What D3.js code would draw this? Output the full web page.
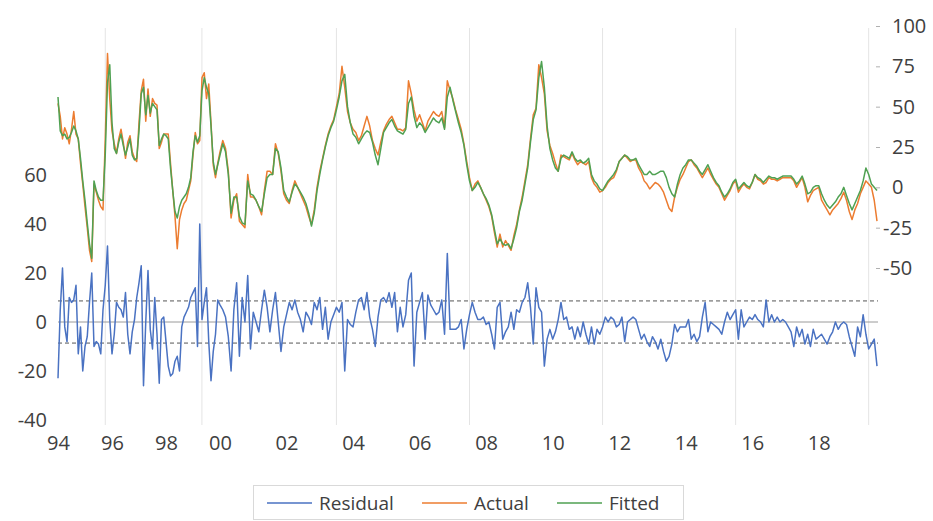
<!DOCTYPE html>
<html>
<head>
<meta charset="utf-8">
<script src="https://cdn.jsdelivr.net/npm/d3@7"></script>
<style>
  body { margin: 0; background: #fff; }
  svg { display: block; font-family: "Open Sans", sans-serif; }
</style>
</head>
<body>
<svg id="chart" width="933" height="521"></svg>
<script>
// Monthly observations, January 1994 to October 2019
const startYear = 1994;

const residual = [
  -23, 5, 22, -2, -8, 10, 8, 9, 15, -13, -2, -20,
  -10, -6, 8, 20, -10, -8, -9, -13, 5, 15, 31, 1,
  -13, -5, 8, 6, 5, 2, 12, -5, -13, -4, 1, 10,
  16, 23, -26, 0, 21, -3, -11, 10, -5, -25, 1, 2,
  -8, -18, -22, -21, -16, -14, -20, -2, 2, 4, 6, 10,
  12, 14, -10, 40, 1, 8, 14, -8, -24, -12, -5, 9,
  7, 5, 2, -6, -20, 5, 16, -14, 10, 0, 19, -11,
  4, 0, -4, 5, 13, 6, -4, 5, 12, 0, -12, -2,
  3, 8, 5, 9, 4, 1, -4, 4, 2, -1, 8, 5,
  10, -3, 6, -7, 0, 3, 6, 4, 8, -20, 1, -1,
  -2, 4, 9, 10, 5, 12, 2, -3, -10, 2, 9, 10,
  8, 12, 6, 12, -4, 6, -2, 3, 17, 20, -18, 4,
  8, 12, -7, 11, 7, 5, 3, 4, 9, -5, 28, -3,
  -3, -3, -2, 1, -11, -3, 3, 8, 4, 1, 1, 2,
  -1, 0, -5, -11, 6, 8, -7, -4, -2, 4, -3, 5,
  4, 8, 10, 16, 6, -9, 14, 6, 4, -18, -7, -3,
  -7, -4, 1, 8, 1, 2, -3, -2, -7, -2, -6, 0,
  -5, -9, -2, -9, -3, -5, -2, 2, 0, 2, 1, -2,
  -1, 2, -8, 0, 1, 2, 1, -3, -7, -5, -8, -10,
  -6, -8, -11, -7, -12, -16, -14, -9, -1, -4, -2, -2,
  -2, 1, -7, -5, -8, -6, 2, 8, -4, 0, -1, -2,
  -3, -5, 0, 4, 1, 3, 5, -7, 5, -2, 0, 2,
  1, 3, 1, 0, -2, 9, 0, 3, 0, 2, 0, 1,
  0, -2, -4, -10, -2, -6, -3, -9, -5, -10, -3, -7,
  -6, -5, -7, -9, -6, -4, 0, -3, -1, 0, -1, -6,
  -10, -14, -2, -6, 3, -5, -11, -9, -7, -18
];

const actual = [
  52, 44, 30, 37, 33, 27, 36, 47, 33, 30, 15, 2,
  -12, -25, -39, -46, 2, -3, -8, -12, -14, 30, 83, 55,
  35, 27, 21, 30, 36, 28, 18, 28, 32, 22, 18, 16,
  40, 60, 67, 41, 61, 44, 55, 52, 51, 24, 28, 33,
  33, 33, 15, -2, -18, -38, -20, -14, -10, -8, -2, 4,
  20, 34, 27, 29, 68, 71, 55, 64, 40, 14, 6, 15,
  22, 29, 24, 10, -19, -8, -4, -21, -23, -25, 8, -6,
  -6, -8, -12, -17, -2, 10, 10, 8, 27, 21, 10, -4,
  -8, -10, -2, 4, 0, -4, -8, -12, -18, -23, -14, 0,
  10, 18, 26, 33, 38, 42, 50, 58, 75, 62, 47, 40,
  36, 34, 29, 32, 38, 44, 38, 29, 24, 20, 28, 35,
  39, 42, 44, 40, 36, 36, 35, 37, 66, 58, 48, 41,
  45, 40, 35, 41, 44, 47, 45, 44, 47, 37, 66, 60,
  55, 48, 42, 36, 27, 16, 6, -2, 2, 4, 0, -4,
  -8, -12, -18, -28, -37, -29, -37, -33, -36, -39, -30, -23,
  -14, -6, 4, 14, 30, 45, 49, 76, 68, 58, 35, 26,
  21, 15, 10, 20, 19, 18, 17, 21, 17, 14, 16, 15,
  14, 16, 6, 2, 0, -3, -2, 0, 3, 5, 6, 10,
  16, 18, 20, 18, 16, 17, 17, 12, 9, 4, 2, -1,
  1, 3, 2, 0, -3, -8, -13, -15, -6, 0, 5, 8,
  12, 16, 17, 14, 12, 9, 6, 9, 12, 8, 5, 2,
  0, -4, -8, -5, -2, 2, 4, -3, 0, 2, 0, -1,
  3, 8, 5, 4, 2, 3, 6, 5, 5, 4, 5, 6,
  6, 6, 6, 4, 0, 3, 6, 0, -9, -5, -2, -1,
  0, -8, -11, -14, -17, -14, -12, -10, -7, -3, -8, -15,
  -20, -14, -10, -4, 0, 4, 2, 0, -8, -21
];

const fitted = [
  56, 35, 32, 33, 30, 31, 34, 38, 35, 30, 18, 4,
  -8, -22, -35, -44, 4, -2, -6, -8, -8, 20, 65, 76,
  40, 24, 21, 28, 33, 26, 20, 25, 30, 20, 17, 18,
  35, 58, 62, 45, 57, 46, 52, 50, 48, 26, 30, 33,
  32, 30, 12, -2, -15, -19, -12, -8, -6, -4, 0, 6,
  22, 32, 28, 32, 60, 68, 62, 58, 38, 16, 8, 14,
  20, 27, 22, 8, -16, -6, -6, -18, -22, -23, 4, -4,
  -5, -8, -12, -15, -4, 6, 8, 8, 24, 22, 12, -2,
  -6, -9, -3, 2, 0, -3, -6, -10, -16, -24, -16, -2,
  8, 17, 25, 32, 37, 41, 48, 56, 66, 70, 50, 40,
  33, 31, 27, 30, 33, 35, 34, 28, 20, 14, 24, 34,
  37, 40, 42, 38, 35, 34, 33, 36, 52, 56, 44, 37,
  40, 38, 34, 37, 40, 43, 41, 40, 43, 36, 56, 62,
  54, 47, 40, 34, 26, 14, 4, -2, 0, 3, 0, -4,
  -7, -11, -17, -26, -35, -32, -35, -36, -35, -38, -32, -25,
  -15, -8, 2, 12, 28, 42, 48, 68, 78, 62, 38, 24,
  17, 12, 10, 18, 20, 19, 18, 22, 18, 16, 17, 15,
  16, 18, 8, 4, 2, -1, -2, 1, 4, 6, 8, 11,
  16, 18, 20, 19, 17, 17, 18, 14, 11, 8, 8, 10,
  8, 8, 9, 10, 10, 6, 0, -4, -6, 2, 8, 12,
  14, 17, 17, 15, 13, 10, 8, 11, 14, 10, 6, 3,
  1, -3, -6, -4, -1, 3, 5, -1, 1, 3, 1, 0,
  3, 8, 6, 5, 3, 5, 7, 6, 6, 5, 6, 7,
  7, 7, 7, 5, 2, 4, 7, 2, -4, -3, 0, 1,
  1, -4, -8, -11, -13, -11, -9, -6, -4, 0, -5, -10,
  -14, -10, -6, -2, 4, 12, 8, 2, 0, -2
];

// Residual standard error band (±1 S.E.)
const residualSE = 8.6;

const xTickYears = [1994, 1996, 1998, 2000, 2002, 2004, 2006, 2008, 2010, 2012, 2014, 2016, 2018];
const xTickLabels = ["94", "96", "98", "00", "02", "04", "06", "08", "10", "12", "14", "16", "18"];
const gridYears = [1995.75, 1999.33, 2003.5, 2007.5, 2011.5, 2015.5, 2019.5];
const leftTicks = [-40, -20, 0, 20, 40, 60];
const rightTicks = [-50, -25, 0, 25, 50, 75, 100];
const seriesNames = ["Residual", "Actual", "Fitted"];
const seriesColors = ["#4a72c2", "#ec7c30", "#4fa152"];

const dates = residual.map((_, i) => startYear + i / 12);
const lastDate = dates[dates.length - 1];

// plain hyphen-minus for negative tick labels
const fmt = d => (d < 0 ? "-" + Math.abs(d) : String(d));

const svg = d3.select("#chart");

// The date axis is stretched piecewise: the first six years are drawn narrower
const x = d3.scaleLinear().domain([startYear, 2000, lastDate]).range([58, 220, 877]);
const yRes = d3.scaleLinear().domain([-40, 60]).range([420, 175]);
const yAct = d3.scaleLinear().domain([-50, 100]).range([268, 26]);

// vertical grid lines
svg.append("g").selectAll("line").data(gridYears).join("line")
  .attr("x1", d => x(d)).attr("x2", d => x(d))
  .attr("y1", 28).attr("y2", 425)
  .attr("stroke", "#e4e4e4").attr("stroke-width", 1);

// residual zero line and ±S.E. band
svg.append("line")
  .attr("x1", x(startYear)).attr("x2", x(lastDate) + 1)
  .attr("y1", yRes(0)).attr("y2", yRes(0))
  .attr("stroke", "#9a9a9a").attr("stroke-width", 1);
svg.append("g").selectAll("line").data([residualSE, -residualSE]).join("line")
  .attr("x1", x(startYear)).attr("x2", x(lastDate) + 1)
  .attr("y1", d => yRes(d)).attr("y2", d => yRes(d))
  .attr("stroke", "#555").attr("stroke-width", 1).attr("stroke-dasharray", "4,3");

// series
const lineRes = d3.line().x((d, i) => x(dates[i])).y(d => yRes(d));
const lineAct = d3.line().x((d, i) => x(dates[i])).y(d => yAct(d));

svg.append("path").datum(residual).attr("d", lineRes)
  .attr("fill", "none").attr("stroke", seriesColors[0]).attr("stroke-width", 1.5)
  .attr("stroke-linejoin", "round");
svg.append("path").datum(actual).attr("d", lineAct)
  .attr("fill", "none").attr("stroke", seriesColors[1]).attr("stroke-width", 1.5)
  .attr("stroke-linejoin", "round");
svg.append("path").datum(fitted).attr("d", lineAct)
  .attr("fill", "none").attr("stroke", seriesColors[2]).attr("stroke-width", 1.5)
  .attr("stroke-linejoin", "round");

// left axis (residual)
const leftAxis = svg.append("g").attr("transform", "translate(50,0)")
  .call(d3.axisLeft(yRes).tickValues(leftTicks).tickFormat(fmt).tickSize(0).tickPadding(3));
leftAxis.select(".domain").remove();
leftAxis.selectAll("text").attr("font-size", 20).attr("fill", "#404040")
  .attr("font-family", "Open Sans, sans-serif");

// right axis (actual / fitted)
const rightAxis = svg.append("g").attr("transform", "translate(876,0)")
  .call(d3.axisRight(yAct).tickValues(rightTicks).tickFormat(fmt).tickSize(4));
rightAxis.select(".domain").remove();
rightAxis.selectAll(".tick line").attr("stroke", "#b0b0b0");
rightAxis.selectAll("text")
  .attr("x", d => d < 0 ? 7 : 16)
  .attr("font-size", 20).attr("fill", "#404040")
  .attr("font-family", "Open Sans, sans-serif");

// bottom axis (years)
const bottomAxis = svg.append("g").attr("transform", "translate(0,433)")
  .call(d3.axisBottom(x).tickValues(xTickYears).tickFormat((d, i) => xTickLabels[i]).tickSize(0).tickPadding(3));
bottomAxis.select(".domain").remove();
bottomAxis.selectAll("text").attr("font-size", 20).attr("fill", "#404040")
  .attr("font-family", "Open Sans, sans-serif");

// legend
const legend = svg.append("g");
legend.append("rect").attr("x", 253.5).attr("y", 485.5).attr("width", 430).attr("height", 34)
  .attr("fill", "#fff").attr("stroke", "#d9d9d9");
const legendX = [267, 422, 557];
const item = legend.selectAll("g.item").data(seriesNames).join("g")
  .attr("class", "item")
  .attr("transform", (d, i) => `translate(${legendX[i]},503)`);
item.append("line").attr("x1", 0).attr("x2", 45).attr("y1", 0).attr("y2", 0)
  .attr("stroke", (d, i) => seriesColors[i]).attr("stroke-width", 1.5);
item.append("text").attr("x", 52).attr("y", 0).attr("dy", "0.35em")
  .attr("font-size", 19).attr("fill", "#404040").text(d => d);
</script>
</body>
</html>
